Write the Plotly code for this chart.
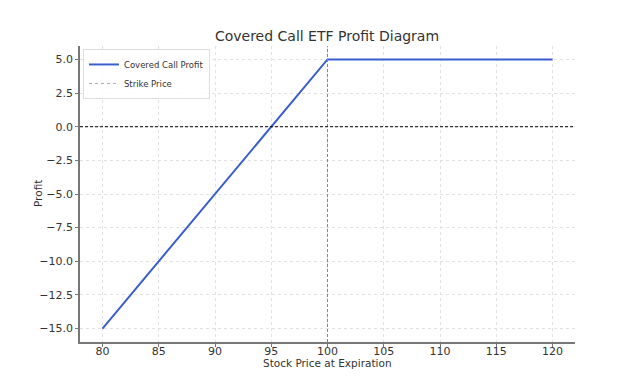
import plotly.graph_objects as go

# Data
stock_price = [80, 100, 120]
profit = [-15, 5, 5]
strike_price = 100
x_ticks = [80, 85, 90, 95, 100, 105, 110, 115, 120]
y_ticks = [-15.0, -12.5, -10.0, -7.5, -5.0, -2.5, 0.0, 2.5, 5.0]

font = "DejaVu Sans, Arial, sans-serif"
fig = go.Figure()
fig.add_trace(go.Scatter(x=stock_price, y=profit, mode="lines", name="Covered Call Profit",
                         line=dict(color="#3a5fcd", width=2)))
fig.add_trace(go.Scatter(x=[None], y=[None], mode="lines", name="Strike Price",
                         line=dict(color="#aaaaaa", width=1, dash="dot")))
fig.add_vline(x=strike_price, line=dict(color="#888888", width=1, dash="3px,2px"))
fig.add_hline(y=0, line=dict(color="black", width=1, dash="3px,2px"))

axis_common = dict(showline=True, linecolor="#777777", linewidth=1.5, ticks="outside",
                   ticklen=3, tickcolor="#777777", showgrid=True, gridcolor="#e2e2e2",
                   griddash="dot", gridwidth=1, zeroline=False, automargin=False,
                   tickfont=dict(size=11, color="#333333", family=font))
fig.update_xaxes(range=[78, 122], tickvals=x_ticks, ticktext=[str(v) for v in x_ticks],
                 ticklabelstandoff=-5, **axis_common)
fig.update_yaxes(range=[-16, 6], tickvals=y_ticks,
                 ticktext=[("\u2212" if v < 0 else "") + f"{abs(v):.1f}" for v in y_ticks],
                 **axis_common)

# Axis titles placed as annotations to match the reference positions
fig.add_annotation(text="Stock Price at Expiration", xref="paper", yref="paper", x=0.5, y=-0.071,
                   xanchor="center", yanchor="middle", showarrow=False,
                   font=dict(size=10.5, color="#333333"))
fig.add_annotation(text="Profit", xref="paper", yref="paper", x=-0.0848, y=0.5, textangle=-90,
                   xanchor="center", yanchor="middle", showarrow=False,
                   font=dict(size=10.5, color="#333333"))

# The page has an 8px body margin, so the figure is sized to fit inside the window.
fig.update_layout(
    width=624, height=368,
    margin=dict(l=72, r=57, t=38, b=34, autoexpand=False),
    paper_bgcolor="white", plot_bgcolor="white",
    font=dict(family=font, color="#333333"),
    title=dict(text="Covered Call ETF Profit Diagram", x=(327 - 8) / 624, xanchor="center",
               xref="container", yref="container", y=1 - 28 / 368, yanchor="middle",
               font=dict(size=14, color="#333333")),
    legend=dict(x=0.006, y=0.99, xanchor="left", yanchor="top", bgcolor="rgba(255,255,255,0.85)",
                bordercolor="#dddddd", borderwidth=1, font=dict(size=8.5, color="#333333"),
                itemwidth=30, tracegroupgap=0),
    showlegend=True,
)
fig.write_html("out.html")
